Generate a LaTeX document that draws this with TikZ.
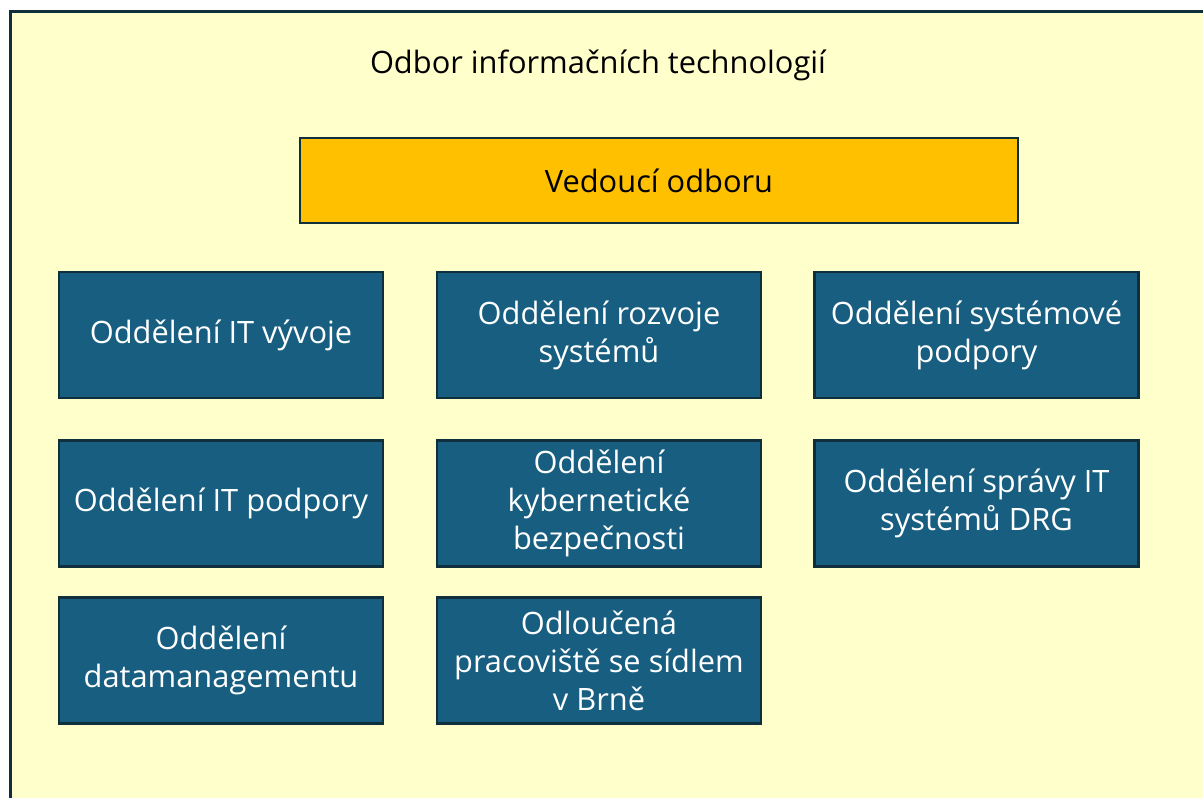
\documentclass[tikz,border=0pt]{standalone}
\usepackage{fontspec}
\setmainfont{Open Sans}
\begin{document}
\begin{tikzpicture}[x=1pt,y=-1pt,
  frame/.style={draw=framecol,line width=2.5pt},
  unit/.style={frame,fill=unitblue,text=white,minimum width=324pt,minimum height=126pt,
    align=center,font=\fontsize{30.8}{38}\selectfont,inner sep=0pt},
  head/.style={frame,fill=headgold,minimum width=718pt,minimum height=85pt,
    font=\fontsize{30.8}{38}\selectfont,inner sep=0pt}]
\definecolor{framecol}{HTML}{0F2F3C}
\definecolor{unitblue}{HTML}{175E80}
\definecolor{headgold}{HTML}{FFC000}
\definecolor{paper}{HTML}{FFFFCC}
\useasboundingbox (0,0) rectangle (1203,798);
\fill[white] (0,0) rectangle (1203,798);
\draw[frame,line width=3pt,fill=paper] (10,11) rectangle (1215,810);
\node (title) at (598,65) {\fontsize{30.8}{34}\selectfont Odbor informačních technologií};
\node[head] (boss) at (659,180.5) {Vedoucí odboru};
\node[unit] (itdev) at (221,335) {Oddělení IT vývoje};
\node[unit] (sysdev) at (599,335) {Oddělení rozvoje\\systémů};
\node[unit] (syssup) at (976.5,335) {Oddělení systémové\\podpory};
\node[unit] (itsup) at (221,503.5) {Oddělení IT podpory};
\node[unit] (cyber) at (599,503.5) {Oddělení\\kybernetické\\bezpečnosti};
\node[unit] (drg) at (976.5,503.5) {Oddělení správy IT\\systémů DRG};
\node[unit] (data) at (221,660.5) {Oddělení\\datamanagementu};
\node[unit] (brno) at (599,660.5) {Odloučená\\pracoviště se sídlem\\v Brně};
\end{tikzpicture}
\end{document}
